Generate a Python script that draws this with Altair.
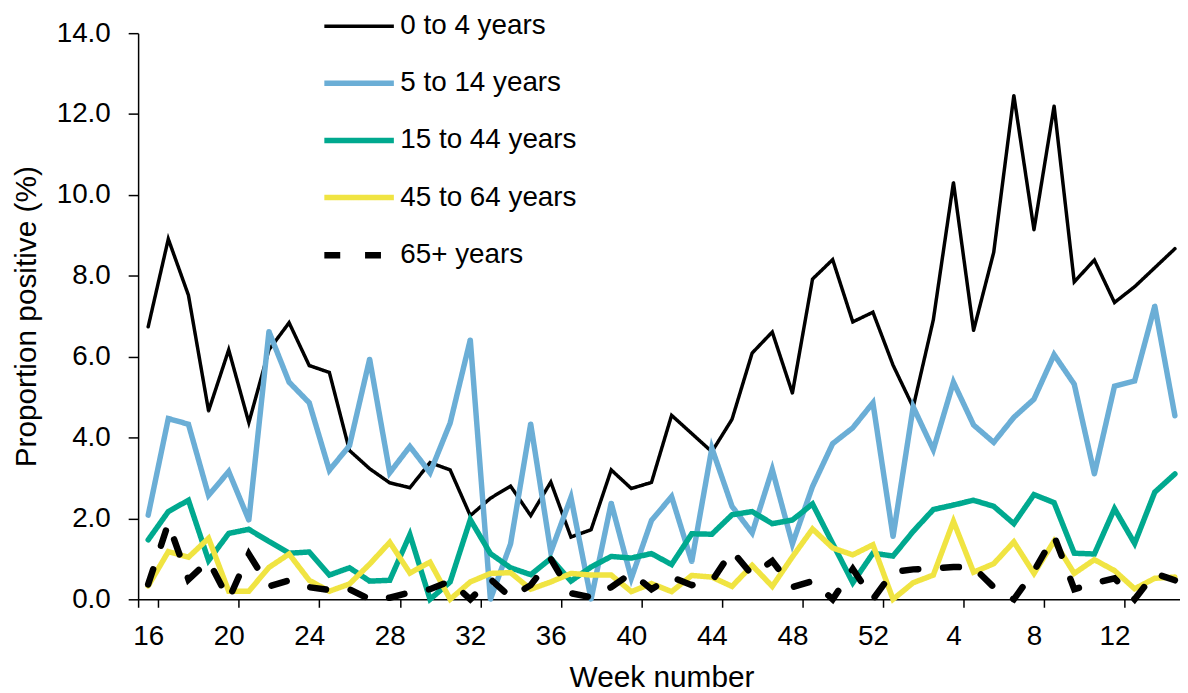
import altair as alt
import pandas as pd

weeks = ["16", "17", "18", "19", "20", "21", "22", "23", "24", "25", "26", "27", "28",
         "29", "30", "31", "32", "33", "34", "35", "36", "37", "38", "39", "40", "41",
         "42", "43", "44", "45", "46", "47", "48", "49", "50", "51", "52", "1", "2",
         "3", "4", "5", "6", "7", "8", "9", "10", "11", "12", "13", "14", "15"]
x_tick_labels = ["16", "20", "24", "28", "32", "36", "40", "44", "48", "52", "4", "8", "12"]
y_ticks = [0, 2, 4, 6, 8, 10, 12, 14]

series_names = ["0 to 4 years", "5 to 14 years", "15 to 44 years", "45 to 64 years", "65+ years"]

age_0_4 = [6.74, 8.91, 7.52, 4.66, 6.17, 4.37, 6.17, 6.84, 5.78, 5.61,
           3.68, 3.23, 2.88, 2.76, 3.38, 3.20, 2.07, 2.50, 2.80, 2.07,
           2.90, 1.54, 1.72, 3.20, 2.74, 2.89, 4.55, 4.10, 3.65, 4.45,
           6.09, 6.61, 5.10, 7.92, 8.40, 6.86, 7.10, 5.79, 4.75, 6.91,
           10.31, 6.65, 8.58, 12.46, 9.14, 12.20, 7.85, 8.39, 7.34, 7.73,
           8.20, 8.67]
age_5_14 = [2.08, 4.47, 4.33, 2.57, 3.16, 1.96, 6.62, 5.37, 4.86, 3.19,
            3.80, 5.94, 3.13, 3.78, 3.13, 4.36, 6.42, 0.00, 1.37, 4.34,
            1.17, 2.52, 0.00, 2.38, 0.52, 1.95, 2.54, 0.93, 3.74, 2.30,
            1.64, 3.21, 1.37, 2.79, 3.85, 4.24, 4.86, 1.55, 4.76, 3.70,
            5.37, 4.31, 3.88, 4.50, 4.95, 6.05, 5.32, 3.10, 5.27, 5.40,
            7.25, 4.54]
age_15_44 = [1.47, 2.17, 2.45, 0.96, 1.63, 1.73, 1.43, 1.14, 1.17, 0.60,
             0.78, 0.45, 0.47, 1.60, 0.00, 0.43, 1.97, 1.13, 0.78, 0.61,
             1.01, 0.45, 0.80, 1.06, 1.02, 1.13, 0.86, 1.62, 1.61, 2.09,
             2.17, 1.87, 1.96, 2.36, 1.38, 0.41, 1.14, 1.07, 1.68, 2.22,
             2.33, 2.45, 2.30, 1.87, 2.59, 2.39, 1.14, 1.12, 2.24, 1.38,
             2.65, 3.10]
age_45_64 = [0.33, 1.18, 1.04, 1.51, 0.20, 0.20, 0.79, 1.12, 0.47, 0.20,
             0.38, 0.87, 1.41, 0.65, 0.92, 0.00, 0.43, 0.64, 0.66, 0.25,
             0.43, 0.64, 0.60, 0.60, 0.19, 0.39, 0.19, 0.59, 0.55, 0.32,
             0.84, 0.32, 1.05, 1.74, 1.27, 1.10, 1.35, 0.00, 0.41, 0.60,
             1.93, 0.67, 0.88, 1.42, 0.64, 1.44, 0.64, 0.98, 0.71, 0.26,
             0.52, 0.55]
age_65_plus = [0.37, 1.88, 0.49, 0.95, 0.00, 1.12, 0.32, 0.47, 0.30, 0.23,
               0.25, 0.00, 0.04, 0.17, 0.25, 0.45, 0.00, 0.50, 0.05, 0.35,
               1.00, 0.15, 0.05, 0.30, 0.65, 0.25, 0.55, 0.35, 0.45, 1.20,
               0.60, 0.95, 0.30, 0.45, 0.00, 0.75, 0.00, 0.68, 0.74, 0.76,
               0.80, 0.79, 0.30, 0.00, 0.70, 1.57, 0.25, 0.40, 0.52, 0.00,
               0.64, 0.47]

colors = ["#000000", "#6BAED6", "#00A98F", "#F0E442", "#000000"]
widths = [3.5, 5.5, 5.5, 5.5, 6.5]
dashes = [[1, 0], [1, 0], [1, 0], [1, 0], [16, 25]]

rows = []
for name, vals in zip(series_names, [age_0_4, age_5_14, age_15_44, age_45_64, age_65_plus]):
    for w, v in zip(weeks, vals):
        rows.append({"week": w, "age": name, "value": v})
df = pd.DataFrame(rows)

FONT = "Liberation Sans"

legend = alt.Legend(
    title=None, orient="none", legendX=184, legendY=-44,
    symbolType="stroke", symbolSize=4900, labelFontSize=28, labelFont=FONT,
    labelColor="black", rowPadding=5.5, labelOffset=3, padding=0,
    labelLimit=400,
)

x_axis = alt.Axis(
    values=x_tick_labels, tickBand="extent", title="Week number",
    labelFontSize=28, titleFontSize=30, labelAngle=0, tickSize=8,
    labelPadding=16, titlePadding=12, domainColor="black", tickColor="black",
    domainWidth=1.5, tickWidth=1.5, labelColor="black", titleColor="black",
    titleFontWeight="normal", labelFont=FONT, titleFont=FONT, grid=False,
    labelOverlap=False,
)
y_axis = alt.Axis(
    values=y_ticks, format=".1f", title="Proportion positive (%)",
    labelFontSize=28, titleFontSize=30, tickSize=10, labelPadding=18,
    titlePadding=15, domainColor="black", tickColor="black", domainWidth=1.5,
    tickWidth=1.5, labelColor="black", titleColor="black",
    titleFontWeight="normal", labelFont=FONT, titleFont=FONT, grid=False,
)

chart = alt.Chart(df).mark_line(strokeCap="round").encode(
    x=alt.X("week:O", sort=weeks, bandPosition=0.5,
            scale=alt.Scale(type="band", paddingInner=0, paddingOuter=0, range=[0, 1054]),
            axis=x_axis),
    y=alt.Y("value:Q", scale=alt.Scale(domain=[0, 14], nice=False, zero=True), axis=y_axis),
    color=alt.Color("age:N", sort=series_names,
                    scale=alt.Scale(domain=series_names, range=colors), legend=legend),
    strokeDash=alt.StrokeDash("age:N", sort=series_names,
                              scale=alt.Scale(domain=series_names, range=dashes), legend=legend),
    strokeWidth=alt.StrokeWidth("age:N", sort=series_names,
                                scale=alt.Scale(type="ordinal", domain=series_names, range=widths),
                                legend=legend),
).properties(
    width=1049, height=570,
    autosize=alt.AutoSizeParams(type="none"),
    padding={"left": 131, "top": 23, "right": 0, "bottom": 95},
).configure_view(stroke=None)

chart.save("out.html", embed_options={"renderer": "svg", "actions": False})
